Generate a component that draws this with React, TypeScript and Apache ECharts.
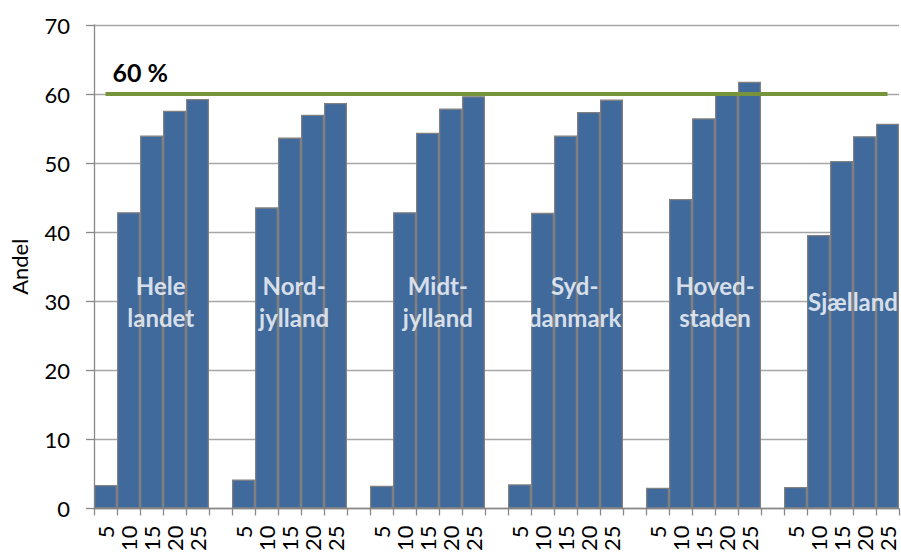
import React, { useEffect, useRef } from "react";
import * as echarts from "echarts";

// ---- Data ----
const regionNames = ["Hele\nlandet", "Nord-\njylland", "Midt-\njylland", "Syd-\ndanmark", "Hoved-\nstaden", "Sjælland"];
const sizeLabels = ["5", "10", "15", "20", "25"];
const heleLandet = [3.4, 42.9, 54.0, 57.6, 59.3];
const nordjylland = [4.2, 43.6, 53.7, 57.0, 58.7];
const midtjylland = [3.3, 42.9, 54.4, 57.9, 59.7];
const syddanmark = [3.5, 42.8, 54.0, 57.4, 59.2];
const hovedstaden = [3.0, 44.8, 56.5, 60.0, 61.8];
const sjaelland = [3.1, 39.6, 50.3, 53.9, 55.7];
const regionValues = [heleLandet, nordjylland, midtjylland, syddanmark, hovedstaden, sjaelland];
const thresholdValue = 60;
const thresholdLabel = "60 %";
const yMin = 0;
const yMax = 70;
const yInterval = 10;
const yAxisName = "Andel";
const regionLabelValue = 30;

// ---- Styling (label placement nudges, in category units) ----
const labelNudge = [-0.1, -0.3, -0.05, -0.1, 0, 0];

// build categories with an empty gap category between regions
const categories: string[] = [];
const barData: (number | string)[] = [];
regionValues.forEach((vals, g) => {
  if (g > 0) {
    categories.push("");
    barData.push("-");
  }
  sizeLabels.forEach((s, i) => {
    categories.push(s);
    barData.push(vals[i]);
  });
});
const groupSpan = sizeLabels.length + 1;
const labelData = regionNames.map((name, g) => ({
  name,
  value: [g * groupSpan + 3 + labelNudge[g], regionLabelValue],
}));

const FONT = "Lato";

export default function App() {
  const ref = useRef<HTMLDivElement>(null);
  useEffect(() => {
    if (!ref.current) return;
    const chart = echarts.init(ref.current, undefined, { renderer: "svg" });
    chart.setOption({
      animation: false,
      textStyle: { fontFamily: FONT },
      grid: { left: 94, right: 2, top: 25, bottom: 44 },
      xAxis: [
        {
          type: "category",
          data: categories,
          boundaryGap: true,
          axisLine: { show: true, lineStyle: { color: "#888888", width: 1.3 } },
          axisTick: { show: true, interval: 0, length: 7, lineStyle: { color: "#888888", width: 1.3 } },
          axisLabel: {
            interval: 0,
            rotate: 90,
            margin: 17,
            fontSize: 22,
            color: "#000000",
            fontFamily: FONT,
          },
          splitLine: { show: false },
        },
        {
          type: "value",
          min: 0,
          max: categories.length,
          show: false,
        },
      ],
      yAxis: {
        type: "value",
        min: yMin,
        max: yMax,
        interval: yInterval,
        name: yAxisName,
        nameLocation: "middle",
        nameRotate: 90,
        nameGap: 64,
        nameTextStyle: { fontSize: 22, color: "#000000", fontFamily: FONT },
        axisLine: { show: true, lineStyle: { color: "#888888", width: 1.3 } },
        axisTick: { show: true, length: 8, lineStyle: { color: "#888888", width: 1.3 } },
        axisLabel: { margin: 24, fontSize: 22, color: "#000000", fontFamily: FONT },
        splitLine: { show: true, lineStyle: { color: "#A6A6A6", width: 1.3 } },
      },
      series: [
        {
          type: "bar",
          data: barData,
          barCategoryGap: "0%",
          itemStyle: { color: "#40699C", borderColor: "#808080", borderWidth: 1.3 },
          markLine: {
            silent: true,
            symbol: ["none", "none"],
            lineStyle: { color: "#77933C", width: 4, type: "solid" },
            label: {
              show: true,
              position: "insideStartTop",
              formatter: thresholdLabel,
              fontSize: 25,
              fontWeight: "bold",
              color: "#000000",
              fontFamily: FONT,
              distance: [7, 10],
            },
            emphasis: { disabled: true },
            data: [
              [
                { coord: [0, thresholdValue] },
                { coord: [categories.length - 1, thresholdValue] },
              ],
            ],
          },
        },
        {
          type: "scatter",
          xAxisIndex: 1,
          yAxisIndex: 0,
          data: labelData,
          symbolSize: 0,
          silent: true,
          label: {
            show: true,
            position: "inside",
            formatter: "{b}",
            color: "#FFFFFF",
            fontWeight: "bold",
            fontSize: 24,
            lineHeight: 32,
            fontFamily: FONT,
            align: "center",
          },
          z: 5,
        },
      ],
    });
    return () => chart.dispose();
  }, []);
  return (
    <div
      ref={ref}
      style={{ position: "fixed", left: 0, top: 0, width: 901, height: 554, background: "#ffffff" }}
    />
  );
}
